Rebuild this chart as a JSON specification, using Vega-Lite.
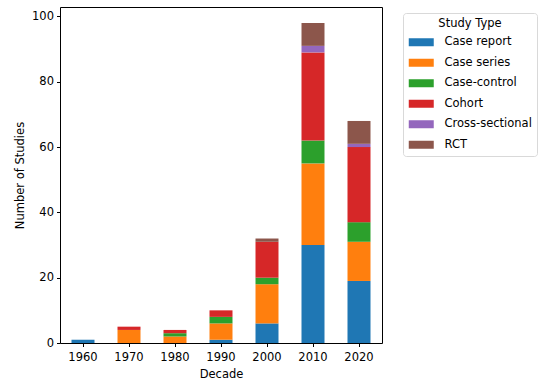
{
  "$schema": "https://vega.github.io/schema/vega-lite/v6.json",
  "autosize": {"type": "none"},
  "width": 322,
  "height": 336,
  "padding": {"left": 60, "top": 7, "right": 168, "bottom": 43},
  "background": "white",
  "data": {
    "values": [
      {"decade": "1960", "type": "Case report", "n": 1},
      {"decade": "1970", "type": "Case series", "n": 4},
      {"decade": "1970", "type": "Cohort", "n": 1},
      {"decade": "1980", "type": "Case series", "n": 2},
      {"decade": "1980", "type": "Case-control", "n": 1},
      {"decade": "1980", "type": "Cohort", "n": 1},
      {"decade": "1990", "type": "Case report", "n": 1},
      {"decade": "1990", "type": "Case series", "n": 5},
      {"decade": "1990", "type": "Case-control", "n": 2},
      {"decade": "1990", "type": "Cohort", "n": 2},
      {"decade": "2000", "type": "Case report", "n": 6},
      {"decade": "2000", "type": "Case series", "n": 12},
      {"decade": "2000", "type": "Case-control", "n": 2},
      {"decade": "2000", "type": "Cohort", "n": 11},
      {"decade": "2000", "type": "RCT", "n": 1},
      {"decade": "2010", "type": "Case report", "n": 30},
      {"decade": "2010", "type": "Case series", "n": 25},
      {"decade": "2010", "type": "Case-control", "n": 7},
      {"decade": "2010", "type": "Cohort", "n": 27},
      {"decade": "2010", "type": "Cross-sectional", "n": 2},
      {"decade": "2010", "type": "RCT", "n": 7},
      {"decade": "2020", "type": "Case report", "n": 19},
      {"decade": "2020", "type": "Case series", "n": 12},
      {"decade": "2020", "type": "Case-control", "n": 6},
      {"decade": "2020", "type": "Cohort", "n": 23},
      {"decade": "2020", "type": "Cross-sectional", "n": 1},
      {"decade": "2020", "type": "RCT", "n": 7}
    ]
  },
  "mark": {"type": "bar"},
  "encoding": {
    "x": {
      "field": "decade",
      "type": "ordinal",
      "title": "Decade",
      "scale": {"paddingInner": 0.5, "paddingOuter": 0.25},
      "axis": {"labelAngle": 0, "labelPadding": 4.5, "titlePadding": 6}
    },
    "y": {
      "field": "n",
      "type": "quantitative",
      "aggregate": "sum",
      "title": "Number of Studies",
      "stack": "zero",
      "scale": {"domain": [0, 102.9], "nice": false, "zero": true},
      "axis": {"values": [0, 20, 40, 60, 80, 100], "labelPadding": 3, "titlePadding": 6}
    },
    "color": {
      "field": "type",
      "type": "nominal",
      "title": "Study Type",
      "scale": {
        "domain": ["Case report", "Case series", "Case-control", "Cohort", "Cross-sectional", "RCT"],
        "range": ["#1f77b4", "#ff7f0e", "#2ca02c", "#d62728", "#9467bd", "#8c564b"]
      },
      "legend": {
        "orient": "none",
        "legendX": 343,
        "legendY": 6,
        "padding": 5,
        "strokeColor": "#d9d9d9",
        "fillColor": "white",
        "cornerRadius": 3,
        "titleAlign": "center",
        "titleAnchor": "middle",
        "titleFontWeight": "normal",
        "titleFontSize": 11.5,
        "titleFont": "DejaVu Sans",
        "titleColor": "black",
        "titlePadding": 7,
        "labelFont": "DejaVu Sans",
        "labelFontSize": 11.5,
        "labelColor": "black",
        "symbolType": "M-1,-0.8H4V0.8H-1Z",
        "symbolSize": 100,
        "symbolStrokeWidth": 0,
        "symbolOpacity": 1,
        "labelOffset": 25,
        "rowPadding": 7.5
      }
    },
    "order": {"field": "type", "sort": "ascending"}
  },
  "config": {
    "font": "DejaVu Sans",
    "view": {"stroke": "black", "strokeWidth": 1},
    "axis": {
      "domain": false,
      "grid": false,
      "ticks": true,
      "tickColor": "black",
      "tickSize": 3.5,
      "labelFont": "DejaVu Sans",
      "labelFontSize": 11.5,
      "labelColor": "black",
      "titleFont": "DejaVu Sans",
      "titleFontSize": 11.5,
      "titleFontWeight": "normal",
      "titleColor": "black"
    }
  }
}
